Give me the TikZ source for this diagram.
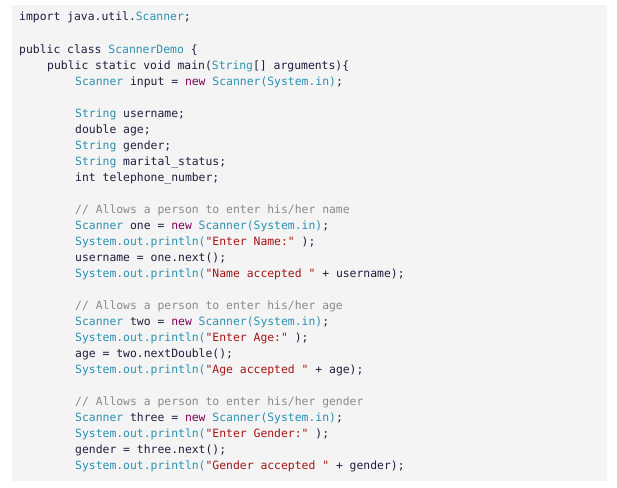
\documentclass[tikz,border=0pt]{standalone}
\usepackage{fontspec}
\setmonofont{DejaVu Sans Mono}
\definecolor{txt}{HTML}{1E1E3C}
\definecolor{tyc}{HTML}{2B91AF}
\definecolor{stc}{HTML}{A31515}
\definecolor{cmc}{HTML}{8A8A8A}
\definecolor{nwc}{HTML}{7F0055}
\definecolor{bgc}{HTML}{F4F4F5}
\newcommand{\ty}[1]{\textcolor{tyc}{#1}}
\newcommand{\st}[1]{\textcolor{stc}{#1}}
\newcommand{\cm}[1]{\textcolor{cmc}{#1}}
\newcommand{\nw}[1]{\textcolor{nwc}{#1}}
\begin{document}
\begin{tikzpicture}[x=1pt,y=-1pt,
  code/.style={anchor=base west,inner sep=0pt,text=txt,font=\ttfamily\fontsize{11.4}{16}\selectfont}]
\useasboundingbox (0,0) rectangle (617,487);
\fill[white] (0,0) rectangle (617,487);
\fill[bgc] (12,5) rectangle (607,481);
\def\a{19}\def\b{47}\def\c{75}
\node[code] (l0) at (\a,21) {import java.util.\ty{Scanner};};
\node[code] (l2) at (\a,53) {public class \ty{ScannerDemo} \{};
\node[code] (l3) at (\b,69) {public static void main(\ty{String}[] arguments)\{};
\node[code] (l4) at (\c,85) {\ty{Scanner} input = \nw{new} \ty{Scanner(System.in)};};
\node[code] (l6) at (\c,117) {\ty{String} username;};
\node[code] (l7) at (\c,133) {double age;};
\node[code] (l8) at (\c,149) {\ty{String} gender;};
\node[code] (l9) at (\c,165) {\ty{String} marital\_status;};
\node[code] (l10) at (\c,181) {int telephone\_number;};
\node[code] (l12) at (\c,213) {\cm{// Allows a person to enter his/her name}};
\node[code] (l13) at (\c,229) {\ty{Scanner} one = \nw{new} \ty{Scanner(System.in)};};
\node[code] (l14) at (\c,245) {\ty{System.out.println(}\st{"Enter Name:"} );};
\node[code] (l15) at (\c,261) {username = one.next();};
\node[code] (l16) at (\c,277) {\ty{System.out.println(}\st{"Name accepted "} + username);};
\node[code] (l18) at (\c,309) {\cm{// Allows a person to enter his/her age}};
\node[code] (l19) at (\c,325) {\ty{Scanner} two = \nw{new} \ty{Scanner(System.in)};};
\node[code] (l20) at (\c,341) {\ty{System.out.println(}\st{"Enter Age:"} );};
\node[code] (l21) at (\c,357) {age = two.nextDouble();};
\node[code] (l22) at (\c,373) {\ty{System.out.println(}\st{"Age accepted "} + age);};
\node[code] (l24) at (\c,405) {\cm{// Allows a person to enter his/her gender}};
\node[code] (l25) at (\c,421) {\ty{Scanner} three = \nw{new} \ty{Scanner(System.in)};};
\node[code] (l26) at (\c,437) {\ty{System.out.println(}\st{"Enter Gender:"} );};
\node[code] (l27) at (\c,453) {gender = three.next();};
\node[code] (l28) at (\c,469) {\ty{System.out.println(}\st{"Gender accepted "} + gender);};
\end{tikzpicture}
\end{document}
